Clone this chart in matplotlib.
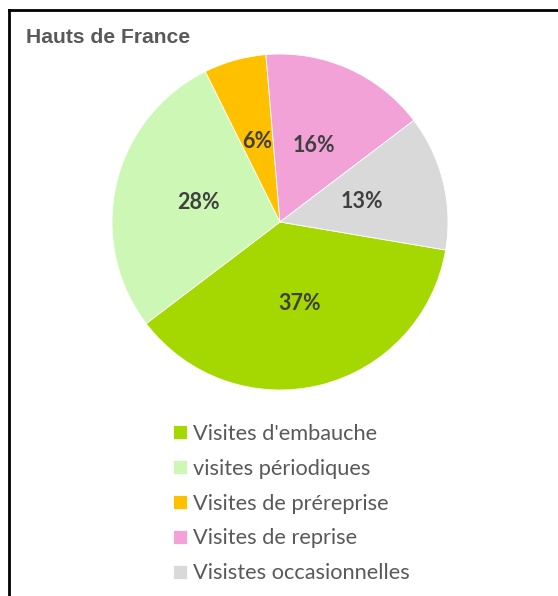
import matplotlib
matplotlib.use("Agg")
import matplotlib.pyplot as plt
from matplotlib.lines import Line2D

title = "Hauts de France"
categories = ["Visites d'embauche", "visites périodiques", "Visites de préreprise",
              "Visites de reprise", "Visistes occasionnelles"]
values = [37, 28, 6, 16, 13]
colors = ["#A5D700", "#CCF7B5", "#FFC000", "#F2A2D6", "#D9D9D9"]

W, H = 558, 596
DPI = 100
fig = plt.figure(figsize=(W / DPI, H / DPI), dpi=DPI)
fig.patch.set_facecolor("white")

# pie axes: center (280, 222), radius 168 px
cx, cy, r = 280, 222, 168
ax = fig.add_axes([(cx - r) / W, (H - cy - r) / H, 2 * r / W, 2 * r / H])
wedges, texts, autotexts = ax.pie(
    values, colors=colors, startangle=-9.6, counterclock=False,
    autopct=lambda p: f"{p:.0f}%", pctdistance=0.5, radius=1,
    wedgeprops=dict(linewidth=0.6, edgecolor="white"),
    textprops=dict(color="#404040", fontsize=15.5, fontweight="bold", family="Lato"))
ax.set_xlim(-1, 1)
ax.set_ylim(-1, 1)
ax.set_aspect("equal")
ax.axis("off")

fig.text(26 / W, 1 - 43 / H, title, fontsize=15.2, fontweight="bold",
         color="#595959", family="Liberation Sans", ha="left", va="baseline")

leg = fig.legend(wedges, categories, loc="upper left",
                 bbox_to_anchor=(173 / W, 1 - 424 / H), frameon=False,
                 handlelength=0.62, handleheight=0.62, handletextpad=0.28,
                 labelspacing=0.68, borderpad=0, borderaxespad=0,
                 prop=dict(family="Lato", size=15.7))
for t in leg.get_texts():
    t.set_color("#595959")

# chart frame (top and left edges visible)
fig.add_artist(Line2D([9 / W, 9 / W], [0, 1 - 10 / H], transform=fig.transFigure,
                      color="black", linewidth=2))
fig.add_artist(Line2D([9 / W, 1], [1 - 10 / H, 1 - 10 / H], transform=fig.transFigure,
                      color="black", linewidth=2))

fig.savefig("out.png", dpi=DPI, facecolor="white")
